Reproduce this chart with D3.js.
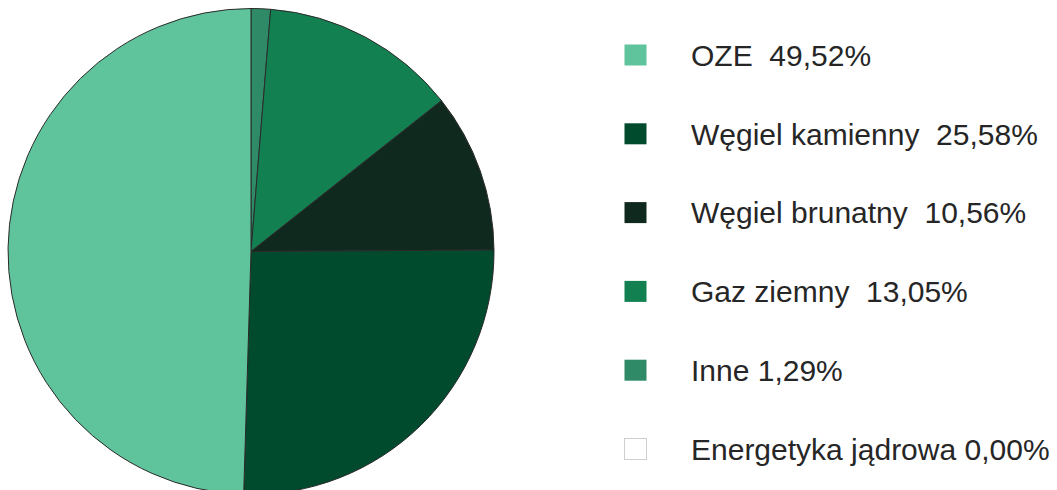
<!DOCTYPE html>
<html>
<head>
<meta charset="utf-8">
<script src="https://cdn.jsdelivr.net/npm/d3@7/dist/d3.min.js"></script>
<style>
  html, body { margin: 0; padding: 0; background: #fff; }
  svg { display: block; }
</style>
</head>
<body>
<svg id="chart" width="1057" height="490"></svg>
<script>
const categories = ["OZE", "Węgiel kamienny", "Węgiel brunatny", "Gaz ziemny", "Inne", "Energetyka jądrowa"];
const values = [49.52, 25.58, 10.56, 13.05, 1.29, 0.00];
const legendLabels = ["OZE  49,52%", "Węgiel kamienny  25,58%", "Węgiel brunatny  10,56%", "Gaz ziemny  13,05%", "Inne 1,29%", "Energetyka jądrowa 0,00%"];
const colors = ["#5fc49c", "#004a2d", "#10291e", "#138052", "#2f8a68", "#ffffff"];

const data = categories.map((c, i) => ({ name: c, value: values[i], color: colors[i], label: legendLabels[i] }));

const svg = d3.select("#chart");
const cx = 251, cy = 251.5, r = 243;

// Slices drawn clockwise from the top in reverse legend order
const pie = d3.pie().sort(null).value(d => d.value);
const arcs = pie(data.slice().reverse());
const arc = d3.arc().innerRadius(0).outerRadius(r);

const g = svg.append("g").attr("transform", `translate(${cx},${cy})`);
g.selectAll("path")
  .data(arcs.filter(d => d.data.value > 0))
  .join("path")
  .attr("d", arc)
  .attr("fill", d => d.data.color)
  .attr("stroke", "#2b2b2b")
  .attr("stroke-width", 1)
  .attr("stroke-linejoin", "round");

// Legend
const y = d3.scalePoint().domain(categories).range([55, 449]);
const lg = svg.append("g");
const rows = lg.selectAll("g").data(data).join("g")
  .attr("transform", d => `translate(0,${y(d.name)})`);
rows.append("rect")
  .attr("x", 624.5).attr("y", -10.5)
  .attr("width", 22).attr("height", 21)
  .attr("fill", d => d.color)
  .attr("stroke", d => d.value > 0 ? "none" : "#cfcfcf")
  .attr("stroke-width", 1);
rows.append("text")
  .attr("x", 691)
  .attr("y", 0)
  .attr("dy", "0.36em")
  .attr("font-family", "'Liberation Sans', Arial, sans-serif")
  .attr("font-size", 30)
  .attr("fill", "#262626")
  .style("white-space", "pre")
  .attr("xml:space", "preserve")
  .text(d => d.label);
</script>
</body>
</html>
